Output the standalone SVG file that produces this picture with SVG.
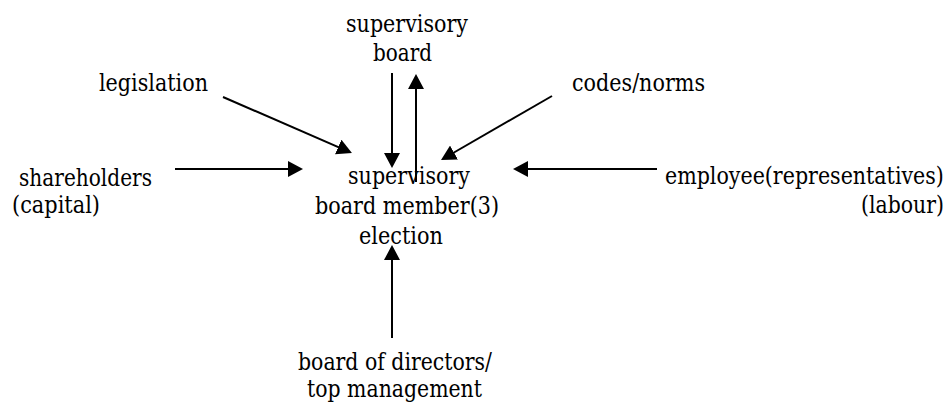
<svg xmlns="http://www.w3.org/2000/svg" width="950" height="403" viewBox="0 0 950 403">
<style>
text{font-family:"DejaVu Serif",serif;font-size:25px;fill:#000}
.c{stroke:#000;stroke-width:2;fill:none;marker-end:url(#ah)}
</style>
<defs>
<marker id="ah" markerUnits="userSpaceOnUse" markerWidth="16" markerHeight="16" refX="12" refY="8" orient="auto">
<path d="M0,0 L15,8 L0,16 z" fill="#000"/>
</marker>
</defs>
<rect width="950" height="403" fill="#fff"/>
<g id="connectors">
<path class="c" d="M392,73 L392,165"/>
<path class="c" d="M416,182 L416,77"/>
<path class="c" d="M223,97 L349.2,151.8"/>
<path class="c" d="M552,96 L443.6,158.5"/>
<path class="c" d="M175,169 L300,169"/>
<path class="c" d="M657,169 L516,169"/>
<path class="c" d="M392,338 L392,248"/>
</g>
<g id="supervisory-board">
<text x="346" y="32" textLength="122" lengthAdjust="spacingAndGlyphs">supervisory</text>
<text x="373" y="61" textLength="59" lengthAdjust="spacingAndGlyphs">board</text>
</g>
<g id="legislation"><text x="99" y="91" textLength="109" lengthAdjust="spacingAndGlyphs">legislation</text></g>
<g id="codes-norms"><text x="572" y="91" textLength="133" lengthAdjust="spacingAndGlyphs">codes/norms</text></g>
<g id="shareholders">
<text x="19" y="186" textLength="133" lengthAdjust="spacingAndGlyphs">shareholders</text>
<text x="12" y="213" textLength="88" lengthAdjust="spacingAndGlyphs">(capital)</text>
</g>
<g id="member-election">
<text x="348" y="184" textLength="122" lengthAdjust="spacingAndGlyphs">supervisory</text>
<text x="315" y="214" textLength="184" lengthAdjust="spacingAndGlyphs">board member(3)</text>
<text x="359" y="244" textLength="84" lengthAdjust="spacingAndGlyphs">election</text>
</g>
<g id="employees">
<text transform="translate(665,184) scale(0.83,1)" x="0" y="0" textLength="336" lengthAdjust="spacingAndGlyphs">employee(representatives)</text>
<text transform="translate(861,213) scale(0.83,1)" x="0" y="0" textLength="100" lengthAdjust="spacingAndGlyphs">(labour)</text>
</g>
<g id="board-of-directors">
<text x="298" y="370" textLength="194" lengthAdjust="spacingAndGlyphs">board of directors/</text>
<text x="307" y="397" textLength="175" lengthAdjust="spacingAndGlyphs">top management</text>
</g>
</svg>
